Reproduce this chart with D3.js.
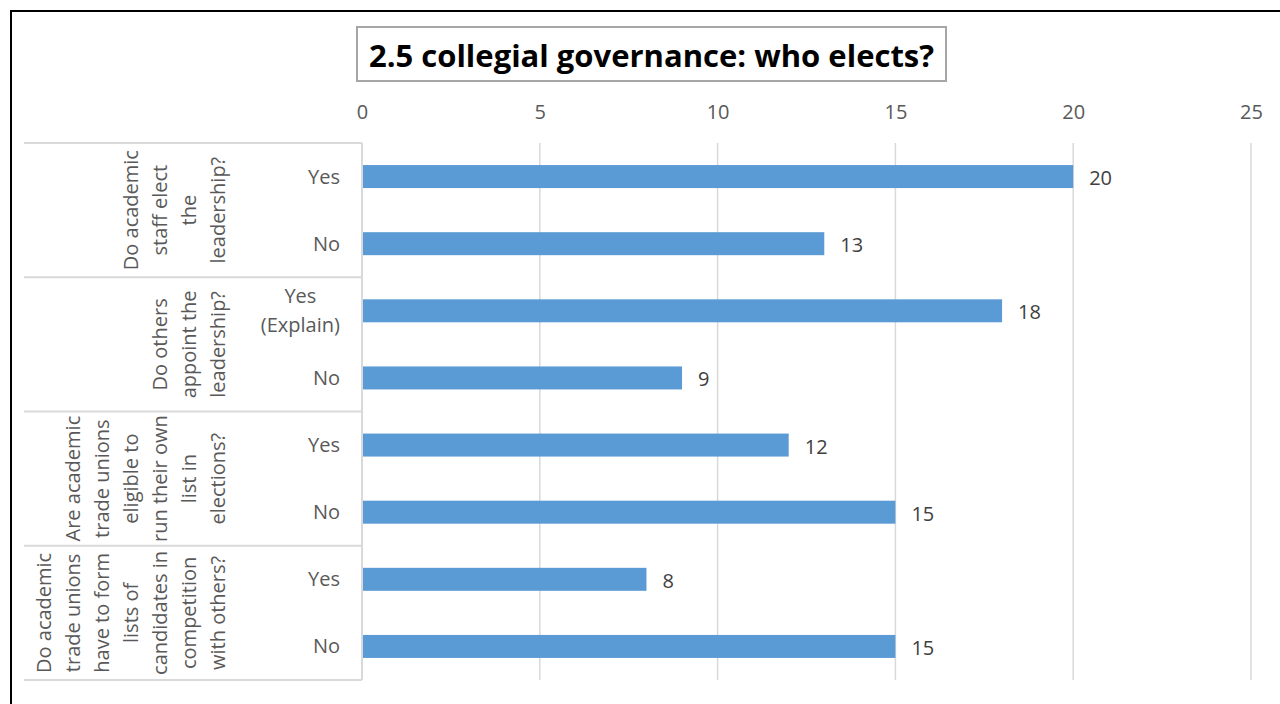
<!DOCTYPE html>
<html><head><meta charset="utf-8">
<script src="https://cdn.jsdelivr.net/npm/d3@7"></script>
<style>body{margin:0;background:#fff}svg{display:block}</style>
</head><body>
<svg id="c" width="1280" height="704"></svg>
<script>
const title = "2.5 collegial governance: who elects?";
const groups = [
  ["Do academic","staff elect","the","leadership?"],
  ["Do others","appoint the","leadership?"],
  ["Are academic","trade unions","eligible to","run their own","list in","elections?"],
  ["Do academic","trade unions","have to form","lists of","candidates in","competition","with others?"]
];
const items = [
  ["Yes"],["No"],
  ["Yes","(Explain)"],["No"],
  ["Yes"],["No"],
  ["Yes"],["No"]
];
const values = [20,13,18,9,12,15,8,15];
const ticks = [0,5,10,15,20,25];

const font = "'Open Sans', sans-serif";
const fs = 20;
const svg = d3.select("#c");
svg.append("rect").attr("width",1280).attr("height",704).attr("fill","#fff");
// outer frame
svg.append("path").attr("d","M11,720 L11,11 L1290,11").attr("fill","none").attr("stroke","#000").attr("stroke-width",2);

const x = d3.scaleLinear().domain([0,25]).range([362,1251]);
const y = d3.scaleBand().domain(d3.range(values.length)).range([143,680]);
const g = d3.scaleBand().domain(d3.range(groups.length)).range([143,680]);

// gridlines
svg.append("g").selectAll("line").data(ticks.slice(1)).join("line")
  .attr("x1",d=>x(d)).attr("x2",d=>x(d)).attr("y1",143).attr("y2",680)
  .attr("stroke","#d9d9d9").attr("stroke-width",1.5);

// tick labels via axis
const ax = svg.append("g").attr("transform","translate(0,119)")
  .call(d3.axisTop(x).tickValues(ticks).tickSize(0).tickPadding(0));
ax.select(".domain").remove();
ax.selectAll("text").attr("font-family",font).attr("font-size",fs).attr("fill","#595959");

// category table lines
const tl = svg.append("g").attr("stroke","#d9d9d9").attr("stroke-width",2);
const bounds = g.domain().map(i=>g(i)).concat([680]);
tl.selectAll("line.h").data(bounds).join("line")
  .attr("x1",24).attr("x2",362).attr("y1",d=>d).attr("y2",d=>d);
tl.append("line").attr("x1",362).attr("x2",362).attr("y1",143).attr("y2",680);

// bars
const bh = 23;
svg.append("g").selectAll("rect").data(values).join("rect")
  .attr("x",x(0)+1).attr("y",(d,i)=>y(i)+y.bandwidth()/2-bh/2)
  .attr("width",d=>x(d)-x(0)-1).attr("height",bh).attr("fill","#5B9BD5");

// value labels
svg.append("g").selectAll("text").data(values).join("text")
  .attr("x",d=>x(d)+16).attr("y",(d,i)=>y(i)+y.bandwidth()/2+1)
  .attr("dominant-baseline","central")
  .attr("font-family",font).attr("font-size",fs).attr("fill","#404040").text(d=>d);

// item labels
const lh = 29;
items.forEach((lines,i)=>{
  const cy = y(i)+y.bandwidth()/2-1;
  const t = svg.append("text").attr("font-family",font).attr("font-size",fs).attr("fill","#595959")
    .attr("text-anchor","middle").attr("dominant-baseline","central");
  lines.forEach((s,k)=>{
    t.append("tspan").attr("x",0).attr("y",cy+(k-(lines.length-1)/2)*lh).text(s);
  });
  const w = t.node().getBBox().width;
  t.attr("transform",`translate(${340-w/2},0)`);
});

// group labels (rotated)
groups.forEach((lines,i)=>{
  const cy = g(i)+g.bandwidth()/2;
  const n = lines.length;
  lines.forEach((s,k)=>{
    const cx = 217-(n-1-k)*lh;
    svg.append("text").attr("transform",`translate(${cx},${cy}) rotate(-90)`)
      .attr("text-anchor","middle").attr("dominant-baseline","central")
      .attr("font-family",font).attr("font-size",fs).attr("fill","#595959").text(s);
  });
});

// title
svg.append("rect").attr("x",357).attr("y",27).attr("width",589).attr("height",54)
  .attr("fill","#fff").attr("stroke","#a6a6a6").attr("stroke-width",2);
svg.append("text").attr("x",651.5).attr("y",55).attr("text-anchor","middle").attr("dominant-baseline","central")
  .attr("font-family",font).attr("font-weight","bold").attr("font-size",31).attr("fill","#000").text(title);
</script>
</body></html>
